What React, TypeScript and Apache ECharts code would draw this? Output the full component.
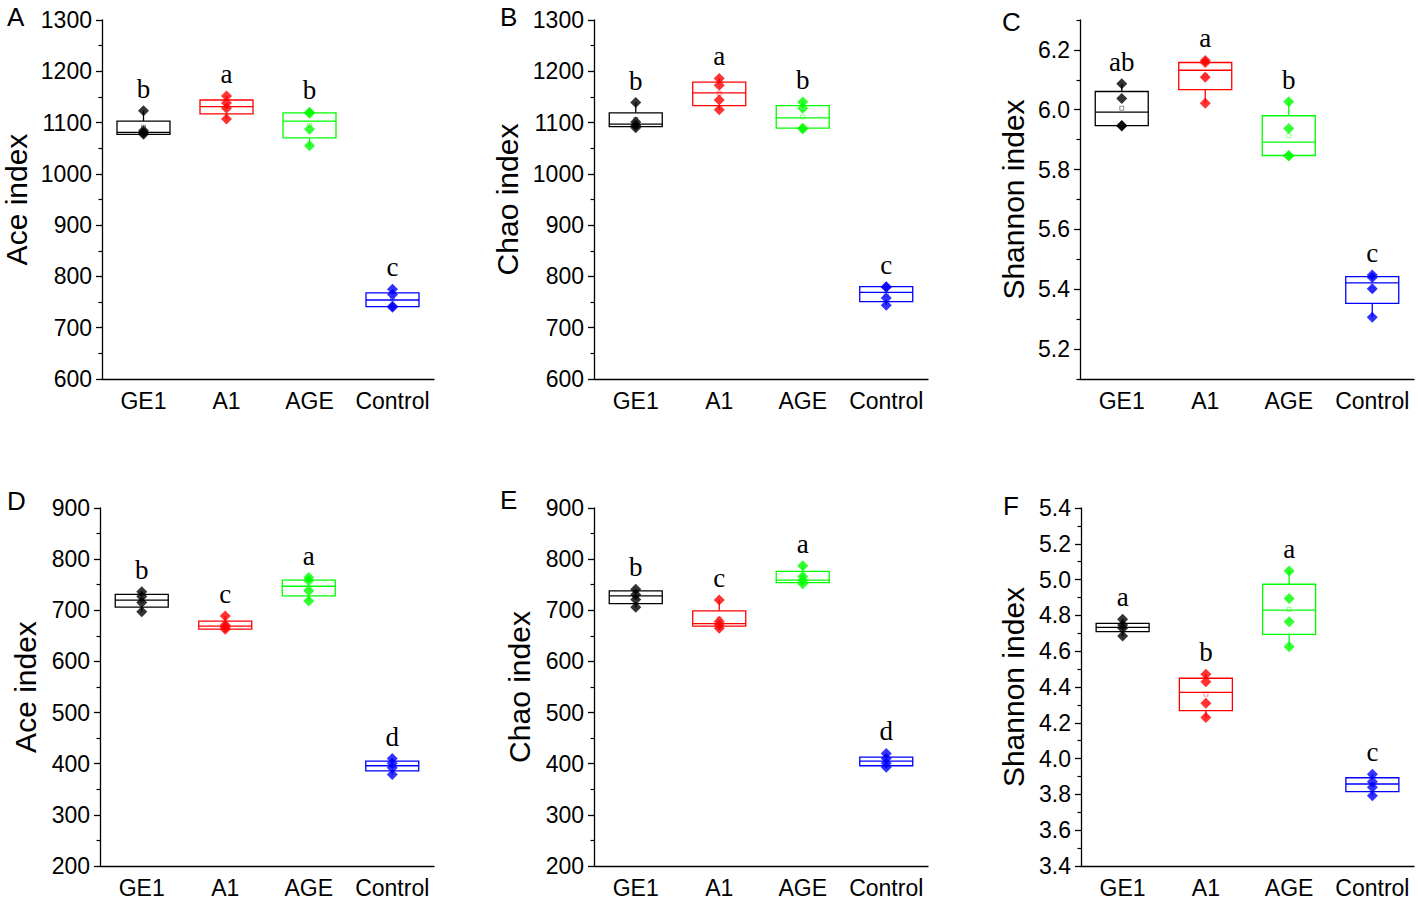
import React, { useEffect, useRef } from 'react';
import * as echarts from 'echarts';

const categories = ['GE1', 'A1', 'AGE', 'Control'];
const groupColors = ['#000000', '#FF0000', '#00FF00', '#0000FF'];

// Box statistics per group: [lower whisker, Q1, median, Q3, upper whisker, mean]
const statsA = [
  [1077, 1077, 1081, 1103, 1123, 1091],
  [1107, 1117, 1131, 1144, 1152, 1131],
  [1055, 1070, 1103, 1119, 1120, 1095],
  [740, 741, 754, 768, 775, 756],
];
const pointsA = [
  [1123, 1084, 1080, 1077],
  [1152, 1138, 1128, 1107],
  [1120, 1118, 1087, 1055],
  [775, 765, 742, 740],
];
const lettersA = ['b', 'a', 'b', 'c'];

const statsB = [
  [1090, 1092, 1097, 1119, 1139, 1106],
  [1125, 1133, 1158, 1179, 1186, 1157],
  [1088, 1089, 1109, 1133, 1140, 1111],
  [744, 751, 769, 780, 780, 765],
];
const pointsB = [
  [1139, 1101, 1095, 1090],
  [1186, 1173, 1144, 1125],
  [1140, 1128, 1089, 1088],
  [780, 779, 758, 744],
];
const lettersB = ['b', 'a', 'b', 'c'];

const statsC = [
  [5.947, 5.947, 5.992, 6.061, 6.087, 6.005],
  [6.022, 6.067, 6.132, 6.158, 6.165, 6.114],
  [5.845, 5.847, 5.892, 5.98, 6.027, 5.914],
  [5.306, 5.353, 5.421, 5.442, 5.448, 5.399],
];
const pointsC = [
  [6.087, 6.038, 5.947, 5.946],
  [6.165, 6.158, 6.109, 6.022],
  [6.027, 5.937, 5.847, 5.845],
  [5.448, 5.439, 5.402, 5.306],
];
const lettersC = ['ab', 'a', 'b', 'c'];

const statsD = [
  [697, 706, 720, 731, 736, 719],
  [663, 663, 669, 679, 689, 672],
  [718, 728, 747, 759, 764, 745],
  [379, 386, 396, 405, 410, 396],
];
const pointsD = [
  [736, 727, 715, 697],
  [689, 671, 667, 663],
  [764, 758, 738, 718],
  [410, 401, 392, 379],
];
const lettersD = ['b', 'c', 'a', 'd'];

const statsE = [
  [706, 713, 728, 738, 741, 726],
  [665, 669, 674, 699, 720, 683],
  [752, 754, 759, 776, 787, 765],
  [393, 396, 405, 413, 420, 406],
];
const pointsE = [
  [741, 731, 721, 706],
  [720, 678, 671, 665],
  [787, 766, 758, 752],
  [420, 410, 401, 393],
];
const lettersE = ['b', 'c', 'a', 'd'];

const statsF = [
  [4.685, 4.709, 4.733, 4.756, 4.778, 4.734],
  [4.229, 4.268, 4.37, 4.449, 4.471, 4.36],
  [4.625, 4.694, 4.83, 4.974, 5.048, 4.833],
  [3.793, 3.815, 3.858, 3.893, 3.912, 3.854],
];
const pointsF = [
  [4.778, 4.746, 4.728, 4.685],
  [4.471, 4.43, 4.309, 4.229],
  [5.048, 4.895, 4.765, 4.625],
  [3.912, 3.871, 3.84, 3.793],
];
const lettersF = ['a', 'b', 'a', 'c'];

// Tick labels
const yTicksTop = [600, 700, 800, 900, 1000, 1100, 1200, 1300];
const yTicksBottom = [200, 300, 400, 500, 600, 700, 800, 900];
const yTicksC = [5.2, 5.4, 5.6, 5.8, 6.0, 6.2];
const yMinorC = [5.1, 5.3, 5.5, 5.7, 5.9, 6.1, 6.3];
const yRangeC = [5.1, 6.3];
const yTicksF = [3.4, 3.6, 3.8, 4.0, 4.2, 4.4, 4.6, 4.8, 5.0, 5.2, 5.4];

const panels = [
  { label: 'A', name: 'Ace index', stats: statsA, points: pointsA, letters: lettersA, ticks: yTicksTop, dec: 0,
    grid: { left: 100, top: 20, width: 334, height: 359 }, nameGap: 71, lx: 7, ly: 4 },
  { label: 'B', name: 'Chao index', stats: statsB, points: pointsB, letters: lettersB, ticks: yTicksTop, dec: 0,
    grid: { left: 594, top: 20, width: 334, height: 359 }, nameGap: 72, lx: 500, ly: 4 },
  { label: 'C', name: 'Shannon index', stats: statsC, points: pointsC, letters: lettersC, ticks: yTicksC, dec: 1,
    range: yRangeC, minor: yMinorC,
    grid: { left: 1080, top: 20, width: 334, height: 359 }, nameGap: 52, lx: 1002, ly: 9 },
  { label: 'D', name: 'Ace index', stats: statsD, points: pointsD, letters: lettersD, ticks: yTicksBottom, dec: 0,
    grid: { left: 100, top: 508, width: 334, height: 358 }, nameGap: 60, lx: 7, ly: 488 },
  { label: 'E', name: 'Chao index', stats: statsE, points: pointsE, letters: lettersE, ticks: yTicksBottom, dec: 0,
    grid: { left: 594, top: 508, width: 334, height: 358 }, nameGap: 60, lx: 500, ly: 487 },
  { label: 'F', name: 'Shannon index', stats: statsF, points: pointsF, letters: lettersF, ticks: yTicksF, dec: 1,
    grid: { left: 1081, top: 508, width: 333, height: 358 }, nameGap: 53, lx: 1003, ly: 493 },
];

const SANS = '"Liberation Sans", Arial, sans-serif';
const SERIF = '"Liberation Serif", "Times New Roman", serif';

export default function App() {
  const ref = useRef<HTMLDivElement>(null);
  useEffect(() => {
    if (!ref.current) return;
    const chart = echarts.init(ref.current, null, { renderer: 'svg' });
    const grids: any[] = [];
    const xAxes: any[] = [];
    const yAxes: any[] = [];
    const series: any[] = [];
    const graphics: any[] = [];

    panels.forEach((p, pi) => {
      grids.push({ ...p.grid, containLabel: false });
      xAxes.push({
        type: 'category',
        gridIndex: pi,
        data: categories,
        boundaryGap: true,
        axisLine: { lineStyle: { color: '#000', width: 1.3 } },
        axisTick: { alignWithLabel: true, interval: 0, length: 6, lineStyle: { color: '#000', width: 1.3 } },
        axisLabel: { interval: 0, color: '#000', fontSize: 23, fontFamily: SANS, margin: 10 },
        splitLine: { show: false },
      });
      const ticks = p.ticks;
      const yBase: any = {
        type: 'value',
        gridIndex: pi,
        position: 'left',
        name: p.name,
        nameLocation: 'middle',
        nameGap: p.nameGap,
        nameTextStyle: { color: '#000', fontSize: 30, fontFamily: SANS },
        axisLine: { show: true, lineStyle: { color: '#000', width: 1.3 } },
        splitLine: { show: false },
      };
      if (p.range) {
        yAxes.push({
          ...yBase,
          min: p.range[0],
          max: p.range[1],
          axisTick: { show: true, length: 6, customValues: ticks, lineStyle: { color: '#000', width: 1.3 } },
          axisLabel: {
            color: '#000', fontSize: 23, fontFamily: SANS, margin: 10, customValues: ticks,
            formatter: (v: number) => v.toFixed(p.dec),
          },
        });
        yAxes.push({
          type: 'value',
          gridIndex: pi,
          position: 'left',
          offset: 0,
          min: p.range[0],
          max: p.range[1],
          axisLine: { show: false },
          axisLabel: { show: false },
          splitLine: { show: false },
          axisTick: { show: true, length: 3.5, customValues: p.minor, lineStyle: { color: '#000', width: 1.2 } },
        });
      } else {
        yAxes.push({
          ...yBase,
          min: ticks[0],
          max: ticks[ticks.length - 1],
          interval: ticks[1] - ticks[0],
          axisTick: { show: true, length: 6, lineStyle: { color: '#000', width: 1.3 } },
          minorTick: { show: true, splitNumber: 2, length: 3.5, lineStyle: { color: '#000', width: 1.2 } },
          axisLabel: {
            color: '#000', fontSize: 23, fontFamily: SANS, margin: 10,
            formatter: (v: number) => v.toFixed(p.dec),
          },
        });
      }
      const yIndex = yAxes.length - (p.range ? 2 : 1);
      const letters = p.letters;
      series.push({
        type: 'custom',
        xAxisIndex: pi,
        yAxisIndex: yIndex,
        z: 2,
        data: p.stats.map((s, i) => [i, ...s]),
        encode: { x: 0, y: [1, 2, 3, 4, 5] },
        renderItem: (params: any, api: any) => {
          const ci = api.value(0);
          const color = groupColors[ci];
          const c = (v: number) => api.coord([ci, v]);
          const pl = c(api.value(1));
          const p1 = c(api.value(2));
          const pm = c(api.value(3));
          const p3 = c(api.value(4));
          const ph = c(api.value(5));
          const pmean = c(api.value(6));
          const x = pl[0];
          const hw = 26.5;
          const ls = { stroke: color, lineWidth: 1.3, fill: 'none' };
          return {
            type: 'group',
            children: [
              { type: 'line', shape: { x1: x, y1: p3[1], x2: x, y2: ph[1] }, style: ls },
              { type: 'line', shape: { x1: x, y1: p1[1], x2: x, y2: pl[1] }, style: ls },
              { type: 'rect', shape: { x: x - hw, y: p3[1], width: hw * 2, height: p1[1] - p3[1] }, style: { ...ls, fill: '#fff' } },
              { type: 'line', shape: { x1: x - hw, y1: pm[1], x2: x + hw, y2: pm[1] }, style: ls },
              { type: 'rect', shape: { x: x - 2, y: pmean[1] - 2, width: 4, height: 4 }, style: { stroke: color, lineWidth: 0.7, fill: 'none', opacity: 0.6 } },
              {
                type: 'text',
                x: x,
                y: ph[1] - 22,
                style: { text: letters[params.dataIndex], fontSize: 27, fontFamily: SERIF, fill: '#000', align: 'center', verticalAlign: 'middle' },
              },
            ],
          };
        },
      });
      series.push({
        type: 'scatter',
        xAxisIndex: pi,
        yAxisIndex: yIndex,
        z: 3,
        symbol: 'diamond',
        symbolSize: 11,
        itemStyle: { color: (prm: any) => groupColors[prm.value[0]] },
        data: p.points.flatMap((arr, i) => arr.map((v) => [i, v])),
      });
      graphics.push({
        type: 'text',
        x: p.lx,
        y: p.ly,
        style: { text: p.label, fontSize: 26, fontFamily: SANS, fill: '#000', verticalAlign: 'top' },
      });
    });

    chart.setOption({
      animation: false,
      backgroundColor: '#fff',
      grid: grids,
      xAxis: xAxes,
      yAxis: yAxes,
      series,
      graphic: graphics,
    });
    return () => chart.dispose();
  }, []);
  return <div ref={ref} style={{ position: 'absolute', left: 0, top: 0, width: 1418, height: 900 }} />;
}
